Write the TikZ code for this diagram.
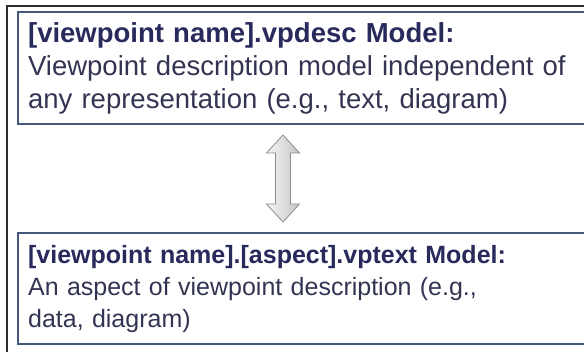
\documentclass[tikz,border=0pt]{standalone}
\usepackage{fontspec}
\setmainfont{Liberation Sans}
\definecolor{boldtxt}{RGB}{40,42,92}
\definecolor{regtxt}{RGB}{50,52,82}
\definecolor{boxline}{RGB}{68,88,124}
\definecolor{frameline}{RGB}{45,45,45}
\definecolor{arrline}{RGB}{140,140,140}
\begin{document}
\begin{tikzpicture}[x=1bp,y=-1bp,
  frame/.style={draw=frameline,line width=1.3bp},
  modelbox/.style={draw=boxline,line width=2.2bp,anchor=north west,
    inner xsep=10bp,inner ysep=0bp,align=left,text=regtxt},
  arrowsty/.style={draw=arrline,line width=0.8bp,left color=gray!8,right color=gray!45}]
\useasboundingbox (0,0) rectangle (584,351);
\draw[frame] (7,400) -- (7,6) -- (700,6);
\node[modelbox,minimum width=640bp,minimum height=112bp,text width=620bp,
  font=\fontsize{27.5bp}{33bp}\selectfont] (topbox) at (17,11)
  {\textcolor{boldtxt}{\textbf{[viewpoint name].vpdesc Model:}}\\
   Viewpoint description model independent of\\
   any representation (e.g., text, diagram)};
\node[modelbox,minimum width=640bp,minimum height=111bp,text width=620bp,
  font=\fontsize{25bp}{32bp}\selectfont] (botbox) at (17,232)
  {\textcolor{boldtxt}{\textbf{[viewpoint name].[aspect].vptext Model:}}\\
   An aspect of viewpoint description (e.g.,\\
   data, diagram)};
\path[arrowsty] (283,135) -- (299.5,153) -- (290.5,153) -- (290.5,204)
  -- (299.5,204) -- (283,222) -- (266.5,204) -- (275.5,204)
  -- (275.5,153) -- (266.5,153) -- cycle;
\end{tikzpicture}
\end{document}
